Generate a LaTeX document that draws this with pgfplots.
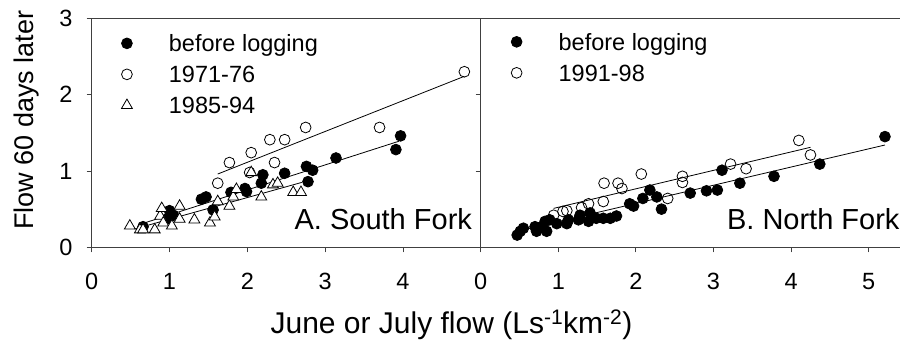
\documentclass[border=0pt]{standalone}
\usepackage{fontspec}
\setmainfont{Liberation Sans}
\usepackage{pgfplots}
\pgfplotsset{compat=1.18}
\begin{document}
\begin{tikzpicture}
\useasboundingbox (0pt,0pt) rectangle (900pt,341pt);
\pgfplotsset{
 myaxis/.style={
  scale only axis, height=229pt, ymin=0, ymax=3, ytick={0,1,2,3},
  tick align=outside, xtick pos=bottom, ytick pos=left, major tick length=5pt,
  axis line style={line width=0.8pt, black!75},
  every tick/.style={line width=0.8pt, black!75},
  tick label style={font=\fontsize{23.5}{24}\selectfont},
  /pgf/number format/assume math mode=true,
  yticklabel style={anchor=east, inner sep=0pt, xshift=-14pt},
  xticklabel style={anchor=base, inner sep=0pt, yshift=-37pt},
  legend cell align=left,
  legend style={draw=none, fill=none, anchor=north west, inner sep=0pt, outer sep=0pt,
    row sep=10pt, column sep=0pt, font=\fontsize{23.5}{24}\selectfont,
    nodes={inner sep=0pt, text height=16pt, text depth=5pt}},
  legend image code/.code={\path[draw=none,fill=none] (-8pt,-8pt) rectangle (42pt,8pt); \draw[##1] plot coordinates {(0pt,3pt)};},
  clip=false,
 },
 fill/.style={only marks, mark=*, mark size=5.4pt, mark options={mark size=5.4pt, fill=black, draw=black, line width=0.8pt}},
 open/.style={only marks, mark=o, mark size=5.4pt, mark options={mark size=5.4pt, fill=white, draw=black, line width=0.8pt}},
 tri/.style={only marks, mark=triangle*, mark size=6.3pt, mark options={mark size=6.3pt, fill=white, draw=black, line width=0.8pt}},
 fitline/.style={black, line width=0.8pt, no marks, forget plot},
}
\begin{axis}[myaxis, at={(91.7pt,93.7pt)}, anchor=south west, width=389pt,
  xmin=0, xmax=5, xtick={0,1,2,3,4},
  legend style={at={(axis cs:0.35,2.77)}}]
\addplot[fitline] coordinates {(0.65,0.31) (3.95,1.39)};
\addplot[fitline] coordinates {(1.62,0.96) (4.79,2.24)};
\addplot[fitline] coordinates {(0.55,0.24) (2.70,0.85)};
\addplot[fill] coordinates {(0.66,0.27) (0.98,0.38) (1.0,0.48) (1.05,0.42) (1.41,0.63) (1.47,0.66) (1.56,0.49) (1.79,0.72) (1.97,0.77) (1.99,0.73) (2.18,0.84) (2.2,0.95) (2.48,0.97) (2.76,1.06) (2.84,1.01) (2.78,0.86) (3.14,1.17) (3.91,1.28) (3.97,1.46)};
\addlegendentry{before logging}
\addplot[open] coordinates {(1.62,0.84) (1.77,1.11) (2.03,0.98) (2.05,1.24) (2.29,1.41) (2.35,1.11) (2.48,1.41) (2.75,1.57) (3.7,1.57) (4.79,2.30)};
\addlegendentry{1971-76}
\addplot[tri] coordinates {(0.49,0.28) (0.62,0.23) (0.66,0.23) (0.81,0.23) (0.88,0.41) (0.9,0.51) (0.92,0.32) (1.03,0.28) (1.13,0.54) (1.13,0.37) (1.32,0.36) (1.52,0.32) (1.58,0.40) (1.62,0.60) (1.77,0.54) (1.82,0.66) (1.86,0.76) (2.05,0.98) (2.18,0.66) (2.33,0.82) (2.39,0.84) (2.59,0.72) (2.69,0.72)};
\addlegendentry{1985-94}
\node[anchor=base east, inner sep=0pt, font=\fontsize{29}{30}\selectfont] at (axis cs:4.89,0.227) {A. South Fork};
\end{axis}
\begin{axis}[myaxis, at={(480.7pt,93.7pt)}, anchor=south west, width=419pt,
  xmin=0, xmax=5.4, xtick={0,1,2,3,4,5}, yticklabels={}, axis y line*=left,
  legend style={at={(axis cs:0.36,2.79)}}]
\addplot[fitline] coordinates {(0.47,0.21) (5.21,1.34)};
\addplot[fitline] coordinates {(0.94,0.51) (4.25,1.31)};
\addplot[fill] coordinates {(0.47,0.16) (0.51,0.21) (0.55,0.25) (0.70,0.27) (0.72,0.21) (0.79,0.27) (0.83,0.34) (0.85,0.21) (0.89,0.36) (0.98,0.31) (1.11,0.31) (1.13,0.36) (1.26,0.36) (1.28,0.42) (1.39,0.34) (1.41,0.45) (1.49,0.38) (1.58,0.38) (1.67,0.38) (1.75,0.41) (1.92,0.57) (1.97,0.54) (2.09,0.64) (2.18,0.75) (2.27,0.66) (2.33,0.50) (2.70,0.71) (2.91,0.74) (3.05,0.75) (3.11,1.01) (3.34,0.84) (3.78,0.93) (4.37,1.09) (5.21,1.45)};
\addlegendentry{before logging}
\addplot[open] coordinates {(0.94,0.42) (1.06,0.47) (1.11,0.48) (1.30,0.52) (1.39,0.57) (1.58,0.60) (1.59,0.84) (1.77,0.84) (1.82,0.77) (2.07,0.96) (2.41,0.64) (2.60,0.93) (2.60,0.85) (3.22,1.09) (3.42,1.03) (4.10,1.40) (4.25,1.21)};
\addlegendentry{1991-98}
\node[anchor=base east, inner sep=0pt, font=\fontsize{29}{30}\selectfont] at (axis cs:5.40,0.227) {B. North Fork};
\end{axis}
\node[rotate=90, anchor=base, inner sep=0pt, font=\fontsize{27}{28}\selectfont] at (33.3pt,221pt) {Flow 60 days later};
\node[anchor=base, inner sep=0pt, font=\fontsize{30}{31}\selectfont] at (451.5pt,7.7pt) {June or July flow (Ls\textsuperscript{-1}km\textsuperscript{-2})};
\end{tikzpicture}
\end{document}
